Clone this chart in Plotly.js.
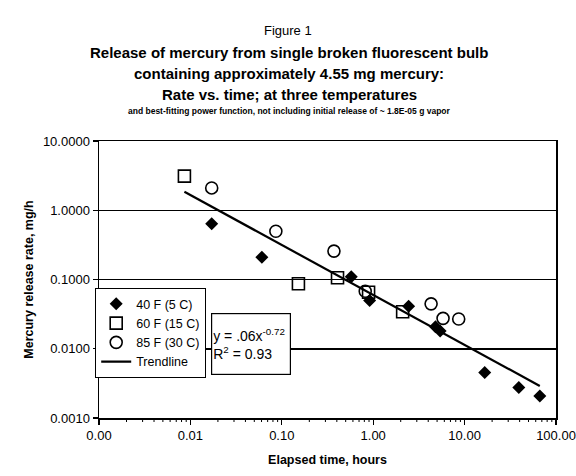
<!DOCTYPE html>
<html>
<head>
<meta charset="utf-8">
<script src="https://cdn.plot.ly/plotly-3.0.1.min.js"></script>
<style>html,body{margin:0;padding:0;background:#fff;}#chart{width:576px;height:476px;}</style>
</head>
<body>
<div id="chart"></div>
<script>
// 40 F (5 C)
const x40 = [0.0171, 0.0605, 0.575, 0.914, 2.44, 4.8, 5.4, 16.6, 39.2, 66.5];
const y40 = [0.641, 0.210, 0.110, 0.0497, 0.041, 0.0208, 0.018, 0.00454, 0.00275, 0.00208];
// 60 F (15 C)
const x60 = [0.0086, 0.152, 0.407, 0.89, 2.10];
const y60 = [3.11, 0.0867, 0.106, 0.0654, 0.0343];
// 85 F (30 C)
const x85 = [0.0171, 0.0861, 0.372, 0.818, 4.30, 5.81, 8.62];
const y85 = [2.10, 0.497, 0.257, 0.0676, 0.0445, 0.0275, 0.0269];
// Trendline endpoints (power function, straight on log-log)
const trendX = [0.0086, 66.5];
const trendY = [1.85, 0.0029];

const seriesNames = ["40 F (5 C)", "60 F (15 C)", "85 F (30 C)", "Trendline"];
const xTickVals = [0.001, 0.01, 0.1, 1, 10, 100];
const xTickText = ["0.00", "0.01", "0.10", "1.00", "10.00", "100.00"];
const yTickVals = [0.001, 0.01, 0.1, 1, 10];
const yTickText = ["0.0010", "0.0100", "0.1000", "1.0000", "10.0000"];
const minorDigits = [2, 3, 4, 5, 6, 7, 8, 9];
const xRangeLog = [-3, 2];

// minor tick marks on the log x axis (digits 2..9 within each decade),
// placed through the axis' log scale mapped to the plot width
const minorTicks = [];
xTickVals.slice(0, -1).forEach(d => minorDigits.forEach(k => {
  const f = (Math.log10(d * k) - xRangeLog[0]) / (xRangeLog[1] - xRangeLog[0]);
  minorTicks.push({type: "line", xref: "paper", yref: "paper", x0: f, x1: f,
    y0: 0, y1: -4 / 277, line: {color: "#000", width: 1}});
}));

const FONT = "Liberation Sans, Arial, sans-serif";

const traces = [
  {x: x40, y: y40, name: seriesNames[0], type: "scatter", mode: "markers",
   marker: {symbol: "diamond", size: 10, color: "#000", line: {width: 0}}},
  {x: x60, y: y60, name: seriesNames[1], type: "scatter", mode: "markers",
   marker: {symbol: "square-open", size: 12, color: "#000", line: {width: 1.6}}},
  {x: x85, y: y85, name: seriesNames[2], type: "scatter", mode: "markers",
   marker: {symbol: "circle-open", size: 12, color: "#000", line: {width: 1.6}}},
  {x: trendX, y: trendY, name: seriesNames[3], type: "scatter", mode: "lines",
   line: {color: "#000", width: 2.2}}
];

// pixel helpers for annotations (plot area: x 99..556, y 141..418)
const pxX = p => (p - 99) / 457;
const pxY = p => (418 - p) / 277;

const layout = {
  width: 576, height: 476,
  margin: {l: 99, r: 20, t: 141, b: 58},
  paper_bgcolor: "#fff", plot_bgcolor: "#fff",
  font: {family: FONT, color: "#000", size: 12},
  showlegend: true,
  legend: {
    x: pxX(95), y: pxY(288), xanchor: "left", yanchor: "top",
    bgcolor: "#fff", bordercolor: "#000", borderwidth: 1.2,
    font: {family: FONT, size: 12.5, color: "#000"},
    tracegroupgap: 0, itemwidth: 30
  },
  xaxis: {
    type: "log", range: xRangeLog,
    tickmode: "array", tickvals: xTickVals, ticktext: xTickText,
    showgrid: false, zeroline: false,
    showline: true, linecolor: "#000", linewidth: 1.5, mirror: true,
    ticks: "outside", ticklen: 5, tickwidth: 1.2, tickcolor: "#000",
    tickfont: {family: FONT, size: 13, color: "#000"},
    title: {text: "<b>Elapsed time, hours</b>", font: {family: FONT, size: 12.5, color: "#000"}, standoff: 13}
  },
  yaxis: {
    type: "log", range: [-3, 1],
    tickmode: "array", tickvals: yTickVals, ticktext: yTickText,
    showgrid: true, gridcolor: "#000", gridwidth: 1.5, zeroline: false,
    showline: true, linecolor: "#000", linewidth: 1.5, mirror: true,
    ticks: "outside", ticklen: 5, tickwidth: 1.2, tickcolor: "#000",
    tickfont: {family: FONT, size: 13, color: "#000"},
    title: {text: "<b>Mercury release rate, mg/h</b>", font: {family: FONT, size: 12.5, color: "#000"}, standoff: 6}
  },
  shapes: minorTicks,
  annotations: [
    {text: "Figure 1", xref: "paper", yref: "paper", x: pxX(288), y: pxY(30),
     xanchor: "center", yanchor: "middle", showarrow: false,
     font: {family: FONT, size: 13, color: "#000"}},
    {text: "<b>Release of mercury from single broken fluorescent bulb</b>", xref: "paper", yref: "paper",
     x: pxX(289), y: pxY(52), xanchor: "center", yanchor: "middle", showarrow: false,
     font: {family: FONT, size: 15, color: "#000"}},
    {text: "<b>containing approximately 4.55 mg mercury:</b>", xref: "paper", yref: "paper",
     x: pxX(289), y: pxY(73), xanchor: "center", yanchor: "middle", showarrow: false,
     font: {family: FONT, size: 15, color: "#000"}},
    {text: "<b>Rate vs. time; at three temperatures</b>", xref: "paper", yref: "paper",
     x: pxX(289), y: pxY(94), xanchor: "center", yanchor: "middle", showarrow: false,
     font: {family: FONT, size: 15, color: "#000"}},
    {text: "<b>and best-fitting power function, not including initial release of ~ 1.8E-05 g vapor</b>", xref: "paper", yref: "paper",
     x: pxX(289), y: pxY(111), xanchor: "center", yanchor: "middle", showarrow: false,
     font: {family: FONT, size: 8.5, color: "#000"}},
    {text: "y = .06x<sup>-0.72</sup><br>R<sup>2</sup> = 0.93", xref: "paper", yref: "paper",
     x: pxX(251), y: pxY(343.5), xanchor: "center", yanchor: "middle", showarrow: false,
     align: "left", valign: "middle", width: 76, height: 58,
     bgcolor: "#fff", bordercolor: "#000", borderwidth: 1.2, borderpad: 1,
     font: {family: FONT, size: 14, color: "#000"}}
  ]
};

Plotly.newPlot("chart", traces, layout, {displayModeBar: false, staticPlot: true});
</script>
</body>
</html>
